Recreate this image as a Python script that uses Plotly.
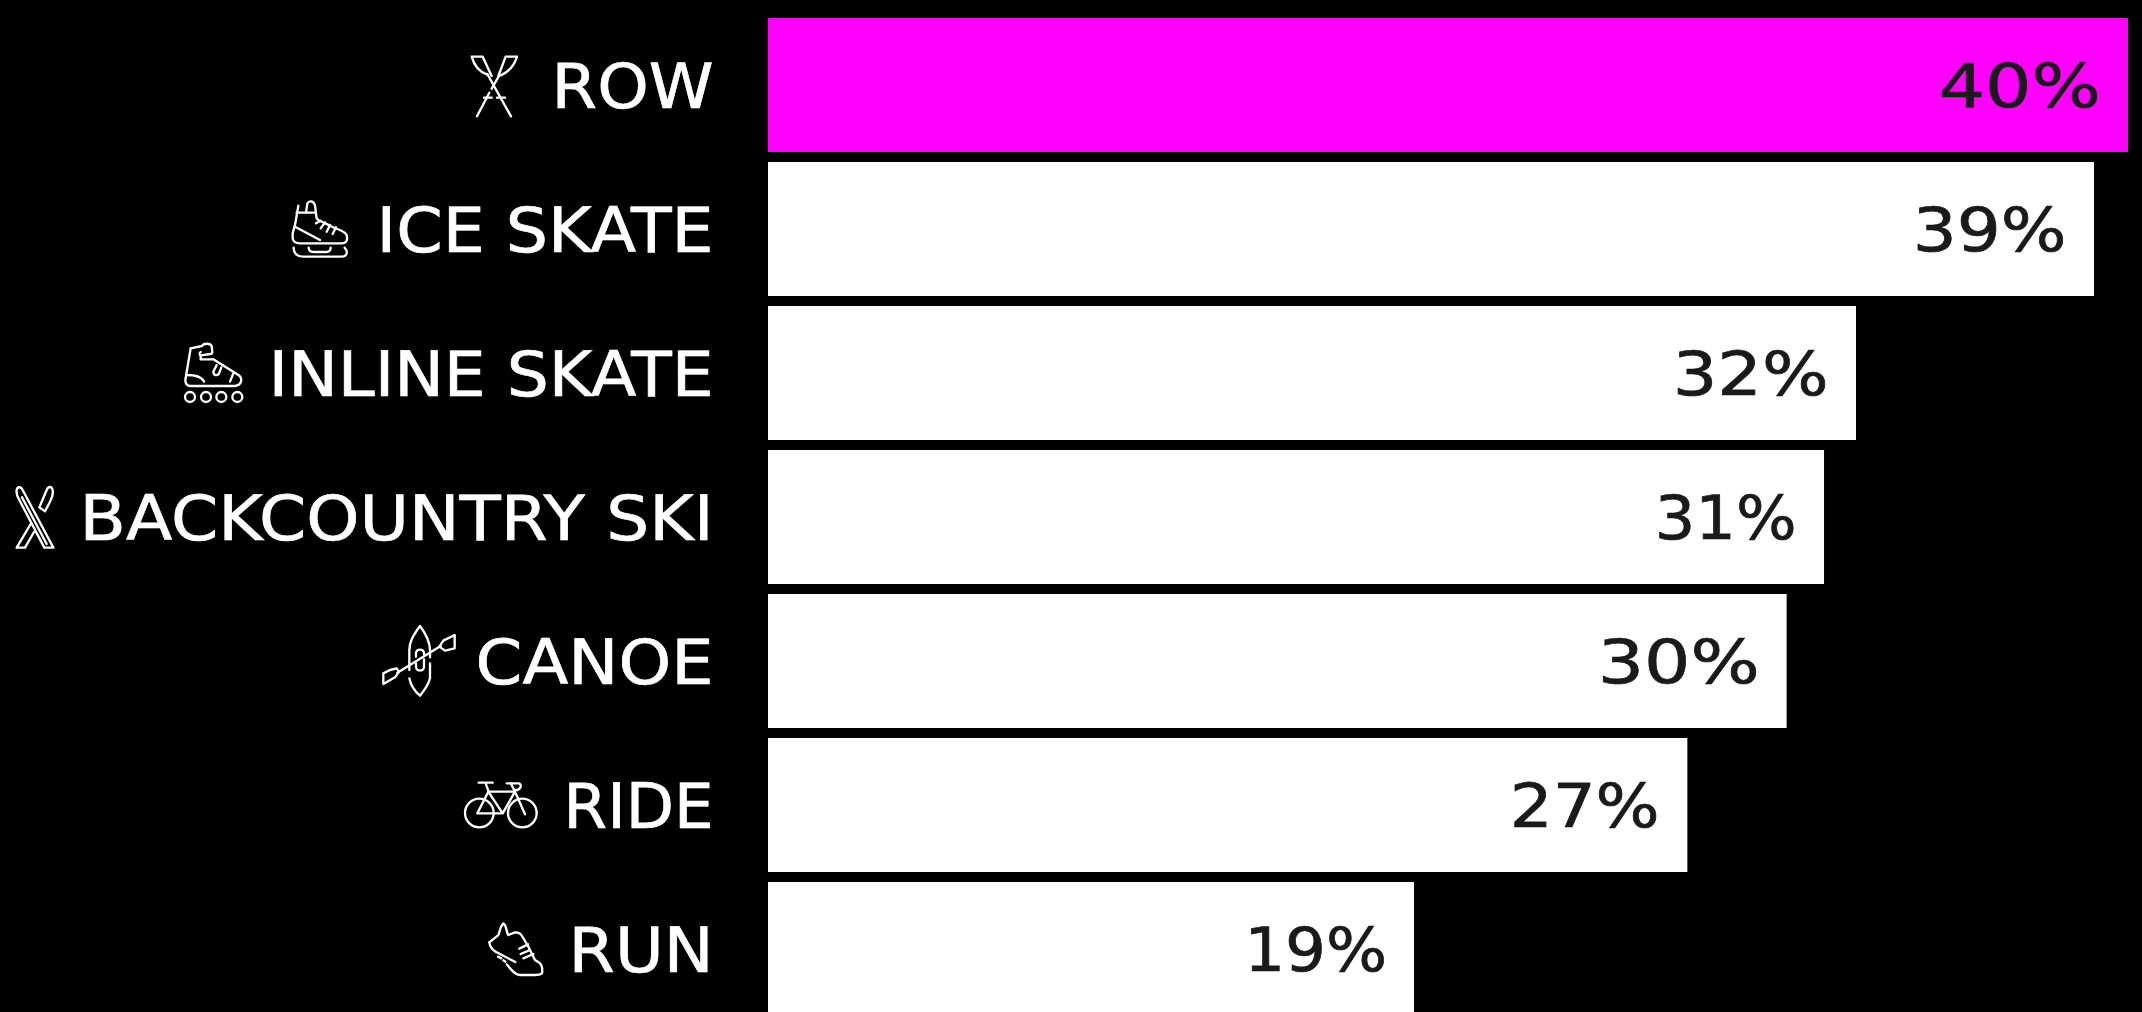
import base64, json
import plotly.graph_objects as go

categories = ["ROW", "ICE SKATE", "INLINE SKATE", "BACKCOUNTRY SKI", "CANOE", "RIDE", "RUN"]
values = [40, 39, 32, 31.06, 29.96, 27.04, 19]
bar_colors = ["#ff00ff", "#ffffff", "#ffffff", "#ffffff", "#ffffff", "#ffffff", "#ffffff"]
value_labels = ["40%", "39%", "32%", "31%", "30%", "27%", "19%"]

W, H = 2142, 1012
FONT = "DejaVu Sans"

# widths the reference's extended typeface gives each string, px
LABEL_WIDTHS = {
    "ROW": 162, "ICE SKATE": 337, "INLINE SKATE": 445, "BACKCOUNTRY SKI": 634,
    "CANOE": 238, "RIDE": 150, "RUN": 145,
}
VALUE_WIDTHS = {
    "40%": 162, "39%": 154, "32%": 156, "31%": 142, "30%": 162, "27%": 150, "19%": 143,
}
VALUE_NATURAL_WIDTH = 133


def icon_image(ox, oy, x0, y0, x1, y1, body):
    """ox,oy = page origin of the 3x crop the body was traced in; x0..y1 = box in crop units."""
    w, h = x1 - x0, y1 - y0
    svg = (f'<svg xmlns="http://www.w3.org/2000/svg" width="{w/3}" height="{h/3}" viewBox="{x0} {y0} {w} {h}">'
           f'<g fill="none" stroke="#fff" stroke-width="7" stroke-linecap="round" stroke-linejoin="round">{body}</g></svg>')
    uri = "data:image/svg+xml;base64," + base64.b64encode(svg.encode()).decode()
    return dict(source=uri, xref="paper", yref="paper",
                x=(ox + x0 / 3) / W, y=1 - (oy + y0 / 3) / H,
                sizex=w / 3 / W, sizey=h / 3 / H,
                xanchor="left", yanchor="top", sizing="stretch", layer="above")


icons = [
    # ROW
    icon_image(440, 0, 80, 155, 245, 360, '''
      <path d="M95 170H128L155 228 M95 170C102 195 118 216 142 224"/>
      <path d="M142 222L213 349"/>
      <path d="M231 170H197L175 228 M231 170C222 200 205 216 182 226"/>
      <path d="M178 226L155 266 M148 278L111 349"/>
      <path d="M132 293H155 M171 293H195"/>'''),
    # ICE SKATE
    icon_image(280, 190, 25, 20, 220, 215, '''
      <path d="M55 47L46 100L38 130V145C40 157 50 160 60 160H185C200 160 204 150 200 135C197 124 170 118 150 107L115 90L110 85L105 47C102 33 88 30 82 40L78 68"/>
      <path d="M50 68H104"/>
      <path d="M108 100L122 92 M122 115L135 97 M140 125L150 105 M158 132L168 112"/>
      <path d="M45 110L120 150"/>
      <path d="M41 173C40 190 52 200 70 200H185C200 200 206 187 194 173"/>
      <path d="M86 173C86 182 95 186 105 186H135C145 186 152 182 152 173"/>'''),
    # INLINE SKATE
    icon_image(0, 320, 540, 60, 740, 255, '''
      <path d="M572 85L606 78C610 70 630 68 635 78L637 97C637 100 635 102 630 102L603 106C598 106 597 98 602 96"/>
      <path d="M602 106V118L640 118 M572 85L556 180C556 192 562 198 572 198H705C725 195 730 175 715 165L640 118"/>
      <path d="M558 165C582 165 606 170 612 185"/>
      <path d="M650 135L640 155C640 168 655 168 658 158L664 142"/>
      <path d="M700 160L690 185"/>
      <circle cx="570" cy="231" r="15"/><circle cx="618" cy="231" r="15"/>
      <circle cx="664" cy="231" r="15"/><circle cx="712" cy="231" r="15"/>'''),
    # BACKCOUNTRY SKI
    icon_image(0, 320, 35, 485, 175, 695, '''
      <path d="M50 510C52 500 62 498 68 510L160 683H133L58 540C52 530 48 520 50 510Z"/>
      <path d="M66 532L140 672"/>
      <path d="M158 510C155 498 145 498 140 510L118 562L135 574L150 545C156 533 160 520 158 510Z"/>
      <path d="M50 683L92 612 M50 683H75L102 636"/>'''),
    # CANOE
    icon_image(0, 320, 1140, 905, 1375, 1140, '''
      <path d="M1290 1012V990C1290 965 1280 945 1260 918C1240 945 1228 965 1228 990V1050 M1228 1075C1232 1095 1245 1115 1260 1127C1270 1115 1285 1095 1290 1075V1030"/>
      <path d="M1248 1010V1000C1248 985 1272 985 1272 1000V1003 M1248 1030V1040C1248 1055 1272 1055 1272 1040V1018"/>
      <path d="M1150 1060V1092L1185 1072L1197 1055L1190 1045L1170 1050Z"/>
      <path d="M1192 1058L1322 978"/>
      <path d="M1364 945V985L1335 992L1318 980L1330 962Z"/>'''),
    # RIDE
    icon_image(360, 760, 300, 50, 545, 215, '''
      <circle cx="358" cy="159" r="43"/><circle cx="487" cy="159" r="43"/>
      <path d="M352 160H428L465 95H385L352 160 M385 95L428 160"/>
      <path d="M356 68H398 M376 68L386 95"/>
      <path d="M465 95L495 163"/>
      <path d="M440 70H476C488 72 482 96 462 88 M452 70L465 95"/>'''),
    # RUN
    icon_image(360, 760, 375, 480, 560, 655, '''
      <path d="M388 547L414 526C420 520 416 505 430 490C440 495 438 515 445 525L465 517C475 517 482 520 486 528L505 560L525 600L540 610C546 616 548 625 546 640C540 645 535 645 525 645H480C465 645 455 630 440 613"/>
      <path d="M388 547C390 565 400 570 410 577L466 606"/>
      <path d="M478 566L504 553 M482 582L510 570 M490 595L520 582"/>
      <path d="M414 590L424 595 M430 601L436 605"/>'''),
]

fig = go.Figure(
    go.Bar(
        x=values,
        y=categories,
        orientation="h",
        width=134 / 144,
        marker=dict(color=bar_colors, line=dict(width=0)),
        hoverinfo="skip",
    )
)

annotations = [
    dict(x=v, y=c, text=t, xref="x", yref="y", xanchor="right", yanchor="middle",
         xshift=-25.5 - (VALUE_WIDTHS[t] - VALUE_NATURAL_WIDTH) / 2, yshift=-1,
         showarrow=False, font=dict(family=FONT, size=60, color="#1a1a1a"))
    for c, v, t in zip(categories, values, value_labels)
]

fig.update_layout(
    width=W,
    height=H,
    margin=dict(l=0, r=0, t=0, b=0, pad=0),
    paper_bgcolor="#000000",
    plot_bgcolor="#000000",
    showlegend=False,
    annotations=annotations,
    images=icons,
    xaxis=dict(range=[0, 40], domain=[768 / W, 2128 / W], visible=False, fixedrange=True),
    yaxis=dict(
        range=[(H - 85) / 144, -85 / 144],
        domain=[0, 1],
        tickmode="array",
        tickvals=categories,
        ticktext=categories,
        showgrid=False,
        zeroline=False,
        showline=False,
        ticks="outside",
        ticklen=41,
        tickcolor="rgba(0,0,0,0)",
        tickwidth=0,
        tickfont=dict(family=FONT, size=62, color="#ffffff"),
        fixedrange=True,
    ),
)

post = """
document.body.style.margin='0';document.body.style.background='#000';document.body.style.overflow='hidden';
var widths = %s;
document.querySelectorAll('.ytick text, .annotation-text').forEach(function(t){
  var w = widths[t.textContent.trim()];
  if (w) { t.setAttribute('textLength', w); t.setAttribute('lengthAdjust', 'spacingAndGlyphs'); }
  var isTick = t.closest('.ytick') !== null;
  t.style.stroke = isTick ? '#ffffff' : '#1a1a1a';
  t.style.strokeWidth = '0.7px';
  if (isTick) t.setAttribute('dy', '1.5');
});
""" % json.dumps({**LABEL_WIDTHS, **VALUE_WIDTHS})

fig.write_html("out.html", config={"displayModeBar": False}, post_script=post)
